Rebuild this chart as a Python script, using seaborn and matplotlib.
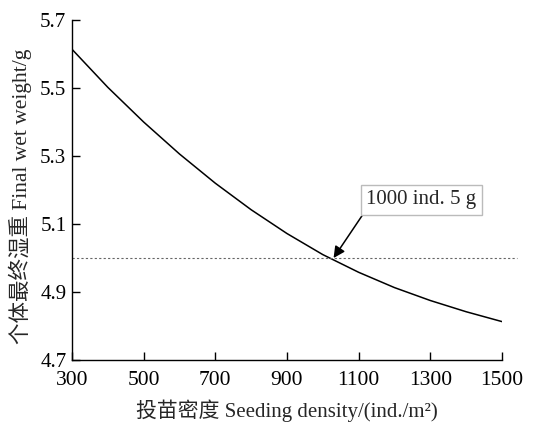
import matplotlib
matplotlib.use('Agg')
import matplotlib.pyplot as plt
import seaborn as sns

# 数据
density = [300, 400, 500, 600, 700, 800, 900, 1000, 1100, 1200, 1300, 1400, 1500]
weight = [5.614, 5.502, 5.400, 5.306, 5.220, 5.142, 5.072, 5.010, 4.958, 4.913, 4.875, 4.842, 4.813]
x_ticks = [300, 500, 700, 900, 1100, 1300, 1500]
y_ticks = [4.7, 4.9, 5.1, 5.3, 5.5, 5.7]
ref_weight = 5.0
cross_density = 1030
note = '1000 ind. 5 g'

sns.set_style('ticks')
plt.rcParams['font.family'] = ['Liberation Serif', 'Noto Sans CJK SC']
plt.rcParams['axes.unicode_minus'] = False

fig = plt.figure(figsize=(5.4, 4.24), dpi=100)
ax = fig.add_axes([0.1333, 0.1509, 0.7963, 0.8019])

sns.lineplot(x=density, y=weight, color='black', linewidth=1.1, ax=ax)

# 参考线 5 g
ax.plot([300, 1542], [ref_weight, ref_weight], color='#666666', linestyle=(0, (2, 2)),
        linewidth=0.8, clip_on=False)

ax.annotate(note, xy=(cross_density, ref_weight), xytext=(1275, 5.171),
            fontsize=15, ha='center', va='center',
            bbox=dict(boxstyle='square,pad=0.25', fc='white', ec='#bbbbbb', lw=1),
            arrowprops=dict(arrowstyle='-|>', color='black', lw=1.1,
                            mutation_scale=17, shrinkA=0, shrinkB=0,
                            relpos=(0.0, 0.0)))

ax.set_xlim(300, 1500)
ax.set_ylim(4.7, 5.7)
ax.set_xticks(x_ticks)
ax.set_yticks(y_ticks)
ax.set_yticklabels([f'{v:.1f}' for v in y_ticks])
ax.tick_params(direction='in', length=6, width=1, labelsize=15.5, colors='black')
ax.tick_params(axis='x', pad=8)
ax.tick_params(axis='y', pad=4, labelsize=15)
for s in ['left', 'bottom']:
    ax.spines[s].set_linewidth(1)
    ax.spines[s].set_color('black')
sns.despine(ax=ax)

ax.set_xlabel('投苗密度 Seeding density/(ind./m²)', fontsize=15, labelpad=7)
ax.set_ylabel('个体最终湿重 Final wet weight/g', fontsize=15.5)
ax.yaxis.set_label_coords(-0.092, 0.481)

fig.savefig('out.png', dpi=100)
